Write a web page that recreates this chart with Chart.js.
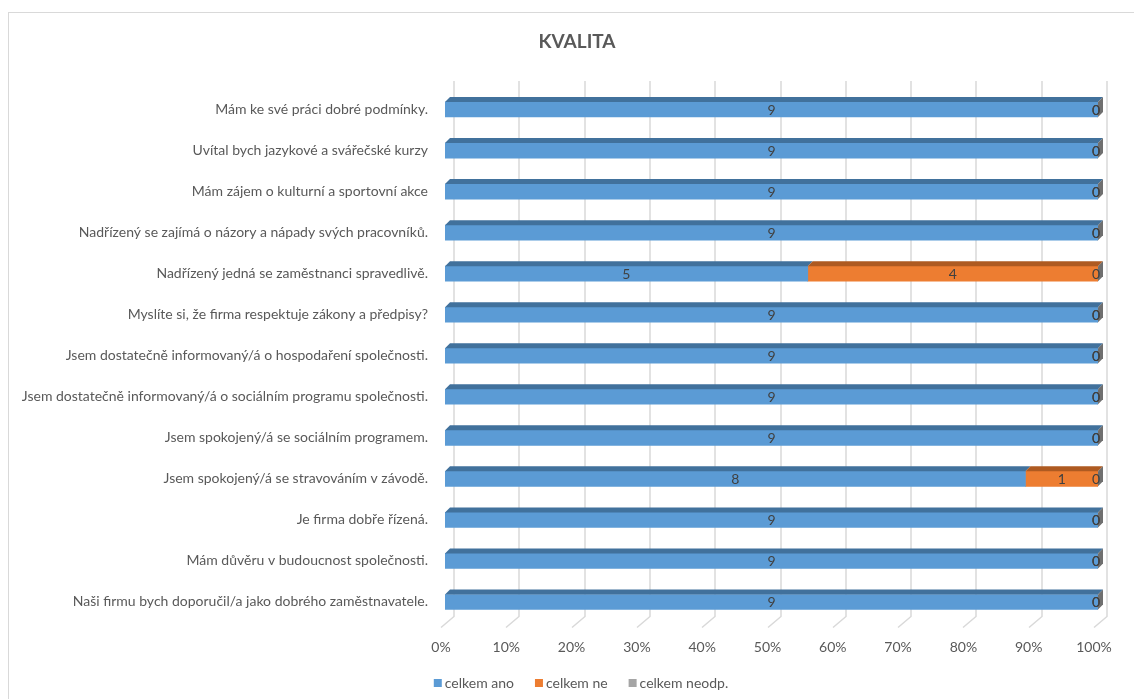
<!DOCTYPE html>
<html>
<head>
<meta charset="utf-8">
<script src="https://cdn.jsdelivr.net/npm/chart.js@4"></script>
<style>
  html, body { margin: 0; padding: 0; background: #fff; }
  #wrap { position: relative; width: 1134px; height: 699px; }
</style>
</head>
<body>
<div id="wrap"><canvas id="kvalita"></canvas></div>
<script>
const categories = [
  "Mám ke své práci dobré podmínky.",
  "Uvítal bych jazykové a svářečské kurzy",
  "Mám zájem o kulturní a sportovní akce",
  "Nadřízený se zajímá o názory a nápady svých pracovníků.",
  "Nadřízený jedná se zaměstnanci spravedlivě.",
  "Myslíte si, že firma respektuje zákony a předpisy?",
  "Jsem dostatečně informovaný/á o hospodaření společnosti.",
  "Jsem dostatečně informovaný/á o sociálním programu společnosti.",
  "Jsem spokojený/á se sociálním programem.",
  "Jsem spokojený/á se stravováním v závodě.",
  "Je firma dobře řízená.",
  "Mám důvěru v budoucnost společnosti.",
  "Naši firmu bych doporučil/a jako dobrého zaměstnavatele."
];
const anoValues   = [9, 9, 9, 9, 5, 9, 9, 9, 9, 8, 9, 9, 9];
const neValues    = [0, 0, 0, 0, 4, 0, 0, 0, 0, 1, 0, 0, 0];
const neodpValues = [0, 0, 0, 0, 0, 0, 0, 0, 0, 0, 0, 0, 0];
const seriesNames = ["celkem ano", "celkem ne", "celkem neodp."];
const seriesColors = ["#5b9bd5", "#ed7d31", "#a5a5a5"];
const topColors = ["#41719c", "#ae5a21", "#7b7b7b"];
const chartTitle = "KVALITA";

const FONT = "Lato, 'Open Sans', sans-serif";
const TEXT = "#595959";

// 100 % stacked: share of each answer in the row total
const totals = categories.map((_, i) => anoValues[i] + neValues[i] + neodpValues[i]);
const toPct = arr => arr.map((v, i) => totals[i] ? v / totals[i] * 100 : 0);
const rawSeries = [anoValues, neValues, neodpValues];

const DEPTH = 5; // 3D offset of the bar top face

// outer frame, title and legend
const frame = {
  id: "frame",
  beforeDraw(chart) {
    const c = chart.ctx;
    c.save();
    c.strokeStyle = "#d9d9d9";
    c.lineWidth = 1;
    c.strokeRect(8.5, 12.5, 1200, 800);

    c.fillStyle = TEXT;
    c.font = "bold 19px " + FONT;
    c.textAlign = "center";
    c.textBaseline = "middle";
    c.fillText(chartTitle, 577, 42);

    c.font = "14px " + FONT;
    c.textAlign = "left";
    const box = 8, gapText = 3, gapItem = 21;
    const widths = seriesNames.map(n => c.measureText(n).width);
    const total = widths.reduce((a, w) => a + box + gapText + w, 0) + gapItem * (seriesNames.length - 1);
    let x = 581 - total / 2;
    const y = 683;
    seriesNames.forEach((n, i) => {
      c.fillStyle = seriesColors[i];
      c.fillRect(x, y - box / 2, box, box);
      c.fillStyle = TEXT;
      c.fillText(n, x + box + gapText, y);
      x += box + gapText + widths[i] + gapItem;
    });
    c.restore();
  }
};

// back-wall gridlines and the floor diagonals
const wall = {
  id: "wall",
  beforeDatasetsDraw(chart) {
    const c = chart.ctx, xs = chart.scales.x, area = chart.chartArea;
    c.save();
    c.strokeStyle = "#d9d9d9";
    c.lineWidth = 1.5;
    for (let v = 0; v <= 100; v += 10) {
      const x = Math.round(xs.getPixelForValue(v));
      c.beginPath();
      c.moveTo(x + 9, area.top - 8);
      c.lineTo(x + 9, area.bottom - 6);
      c.lineTo(x - 4, area.bottom + 5);
      c.stroke();
    }
    c.restore();
  }
};

// top faces, right side face and value labels
const bars3d = {
  id: "bars3d",
  afterDatasetsDraw(chart) {
    const c = chart.ctx;
    c.save();
    chart.data.datasets.forEach((ds, di) => {
      const meta = chart.getDatasetMeta(di);
      meta.data.forEach(el => {
        const top = el.y - el.height / 2;
        const x0 = Math.min(el.base, el.x), x1 = Math.max(el.base, el.x);
        c.fillStyle = topColors[di];
        c.beginPath();
        c.moveTo(x0, top);
        c.lineTo(x0 + DEPTH, top - DEPTH);
        c.lineTo(x1 + DEPTH, top - DEPTH);
        c.lineTo(x1, top);
        c.closePath();
        c.fill();
      });
    });
    const last = chart.getDatasetMeta(chart.data.datasets.length - 1);
    last.data.forEach(el => {
      const top = el.y - el.height / 2, bot = el.y + el.height / 2;
      c.fillStyle = "#6f6f6f";
      c.beginPath();
      c.moveTo(el.x, top);
      c.lineTo(el.x + DEPTH, top - DEPTH);
      c.lineTo(el.x + DEPTH, bot - DEPTH);
      c.lineTo(el.x, bot);
      c.closePath();
      c.fill();
    });
    c.fillStyle = "#404040";
    c.font = "14px " + FONT;
    c.textAlign = "center";
    c.textBaseline = "middle";
    chart.data.datasets.forEach((ds, di) => {
      const meta = chart.getDatasetMeta(di);
      meta.data.forEach((el, i) => {
        const cx = (el.base + el.x) / 2;
        c.fillText(String(rawSeries[di][i]), cx - (rawSeries[di][i] === 0 ? 2 : 0), el.y + 1);
      });
    });
    c.restore();
  }
};

new Chart(document.getElementById("kvalita"), {
  type: "bar",
  data: {
    labels: categories,
    datasets: seriesNames.map((name, i) => ({
      label: name,
      data: toPct(rawSeries[i]),
      backgroundColor: seriesColors[i],
      borderWidth: 0,
      barThickness: 15
    }))
  },
  options: {
    indexAxis: "y",
    responsive: true,
    maintainAspectRatio: false,
    animation: false,
    layout: { padding: { left: 0, right: 36, top: 89, bottom: 44.5 } },
    scales: {
      x: {
        stacked: true,
        min: 0,
        max: 100,
        border: { display: false },
        grid: { display: false, drawTicks: false },
        ticks: {
          stepSize: 10,
          padding: 17,
          labelOffset: -4,
          color: TEXT,
          font: { family: FONT, size: 14 },
          callback: v => v + "%"
        },
        afterFit: s => { s.height = 32; }
      },
      y: {
        stacked: true,
        border: { display: false },
        grid: { display: false, drawTicks: false },
        ticks: {
          padding: 17,
          color: TEXT,
          font: { family: FONT, size: 14 },
          autoSkip: false
        },
        afterFit: s => { s.width = 445; }
      }
    },
    plugins: {
      title: { display: false },
      legend: { display: false },
      tooltip: { enabled: false }
    }
  },
  plugins: [frame, wall, bars3d]
});
</script>
</body>
</html>
